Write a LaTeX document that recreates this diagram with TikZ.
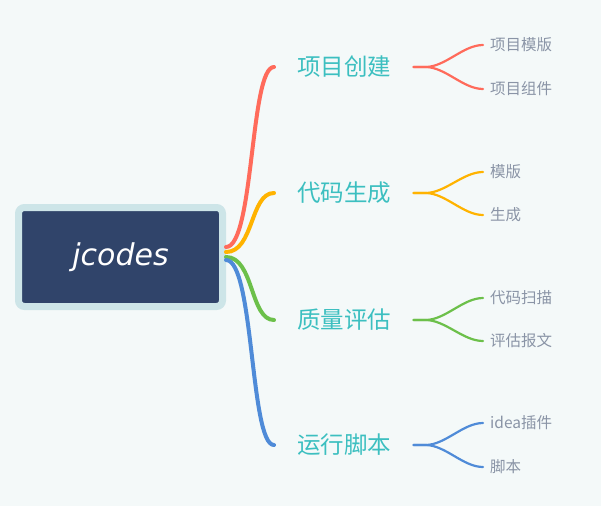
\documentclass[tikz,border=0pt]{standalone}
\usepackage{fontspec}
\setmainfont{Noto Sans CJK SC}
\newfontfamily\rootfont{DejaVu Sans}
\usepackage{tikz}
\usetikzlibrary{positioning, calc}
\definecolor{pagebg}{HTML}{F4F9F9}
\definecolor{rootbg}{HTML}{30446A}
\definecolor{rootrim}{HTML}{CDE5E8}
\definecolor{topictext}{HTML}{3CBFC0}
\definecolor{subtext}{HTML}{8A94A6}
\definecolor{cred}{HTML}{FF6B5B}
\definecolor{corange}{HTML}{FFB300}
\definecolor{cgreen}{HTML}{6CC04A}
\definecolor{cblue}{HTML}{4F8BD8}

\begin{document}
\begin{tikzpicture}[
    x=1pt, y=-1pt,
    rootbox/.style={rectangle, rounded corners=6pt, draw=rootrim, fill=rootbg,
                    line width=7pt, minimum width=204pt, minimum height=99pt,
                    text=white, font=\rootfont\itshape\fontsize{30}{32}\selectfont},
    topic/.style={anchor=west, inner sep=0pt, text=topictext,
                  font=\fontsize{23.5}{25}\selectfont},
    leaf/.style={anchor=west, inner sep=0pt, text=subtext,
                 font=\fontsize{15.5}{17}\selectfont},
    trunk/.style={line width=4pt, line cap=round},
    twig/.style={line width=2.2pt, line cap=round}
]
\fill[pagebg] (0,0) rectangle (601,506);
\useasboundingbox (0,0) rectangle (601,506);

% centre
\node[rootbox] (root) at (120.5,257) {jcodes};

% main topics
\node[topic] (create) at (297,67)  {项目创建};
\node[topic] (gen)    at (297,193) {代码生成};
\node[topic] (eval)   at (297,320) {质量评估};
\node[topic] (run)    at (297,445) {运行脚本};

% leaves
\node[leaf] (tpl)    at (490,45)  {项目模版};
\node[leaf] (comp)   at (490,89)  {项目组件};
\node[leaf] (gtpl)   at (490,172) {模版};
\node[leaf] (gmake)  at (490,215) {生成};
\node[leaf] (scan)   at (490,298) {代码扫描};
\node[leaf] (report) at (490,341) {评估报文};
\node[leaf] (plugin) at (490,423) {idea插件};
\node[leaf] (script) at (490,467) {脚本};

% trunks
\draw[trunk, cred]    ([yshift=10pt]root.east) .. controls +(28,0) and +(-24,0) .. ([xshift=-23pt]create.west);
\draw[trunk, corange] ([yshift=5pt]root.east)  .. controls +(28,0) and +(-24,0) .. ([xshift=-23pt]gen.west);
\draw[trunk, cgreen]  ([yshift=0pt]root.east)  .. controls +(28,0) and +(-24,0) .. ([xshift=-23pt]eval.west);
\draw[trunk, cblue]   ([yshift=-3pt]root.east) .. controls +(28,0) and +(-24,0) .. ([xshift=-23pt]run.west);

% twigs
\foreach \t/\a/\b/\c in {create/tpl/comp/cred, gen/gtpl/gmake/corange,
                         eval/scan/report/cgreen, run/plugin/script/cblue} {
  \draw[twig, \c] ([xshift=22pt]\t.east) -- ++(12,0)
      .. controls +(20,0) and +(-20,0) .. ([xshift=-7pt]\a.west);
  \draw[twig, \c] ([xshift=22pt]\t.east) -- ++(12,0)
      .. controls +(20,0) and +(-20,0) .. ([xshift=-7pt]\b.west);
}

\end{tikzpicture}
\end{document}
